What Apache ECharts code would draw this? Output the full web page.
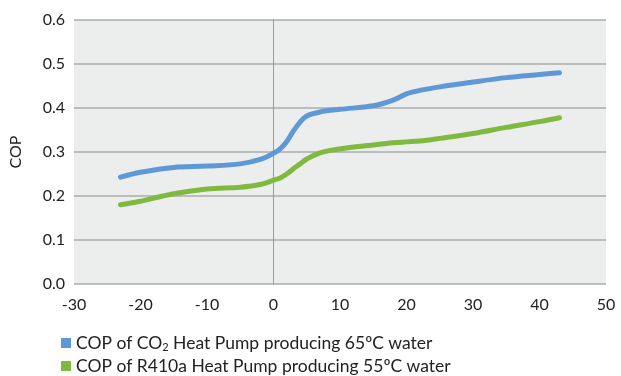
<!DOCTYPE html>
<html><head><meta charset="utf-8">
<script src="https://cdn.jsdelivr.net/npm/echarts@6/dist/echarts.min.js"></script>
<style>html,body{margin:0;padding:0;background:#fff}#c{width:621px;height:376px}</style>
</head><body><div id="c"></div>
<script>
var temps = [-23, -20, -15, -10, -5, -2, 0, 1, 2, 3, 4, 5, 7, 10, 15, 18, 20, 22, 25, 30, 35, 40, 43];
var co2Cop = [0.243, 0.254, 0.265, 0.268, 0.273, 0.283, 0.297, 0.307, 0.324, 0.348, 0.368, 0.382, 0.391, 0.397, 0.405, 0.418, 0.432, 0.440, 0.448, 0.459, 0.469, 0.476, 0.480];
var r410Cop = [0.180, 0.188, 0.205, 0.216, 0.220, 0.226, 0.236, 0.241, 0.250, 0.262, 0.273, 0.284, 0.298, 0.307, 0.316, 0.321, 0.323, 0.325, 0.331, 0.342, 0.356, 0.369, 0.378];
var seriesNames = ['COP of CO2 Heat Pump producing 65ºC water', 'COP of R410a Heat Pump producing 55ºC water'];
var xTicks = {min: -30, max: 50, interval: 10};
var yTicks = {min: 0, max: 0.6, interval: 0.1};

function pairs(xs, ys) { return xs.map(function (x, i) { return [x, ys[i]]; }); }
var font = 'Lato, "Open Sans", sans-serif';
var legendText = {fontFamily: font, fontSize: 17.5, color: '#222', padding: [0, 0, 0, 0],
  rich: {sub: {fontFamily: font, fontSize: 11, color: '#222', verticalAlign: 'bottom', padding: [8, 0, 0, 0]}}};
function legendFmt(n) {
  if (n.indexOf('CO2') >= 0) { return n.replace('CO2', 'CO{sub|2}'); }
  return n;
}
var chart = echarts.init(document.getElementById('c'), null, {renderer: 'canvas'});
chart.setOption({
  animation: false,
  grid: {left: 72, right: 15, top: 20, bottom: 92, show: true, backgroundColor: '#eceded', borderWidth: 0},
  xAxis: {
    type: 'value', min: xTicks.min, max: xTicks.max, interval: xTicks.interval,
    axisLine: {show: false}, axisTick: {show: false}, splitLine: {show: false},
    axisLabel: {fontFamily: font, fontSize: 16, color: '#222', margin: 13}
  },
  yAxis: {
    type: 'value', min: yTicks.min, max: yTicks.max, interval: yTicks.interval,
    name: 'COP', nameLocation: 'middle', nameGap: 50, nameRotate: 90,
    nameTextStyle: {fontFamily: font, fontSize: 16, color: '#222'},
    axisLine: {show: true, onZero: true, lineStyle: {color: '#9a9a9a', width: 1}},
    axisTick: {show: false},
    splitLine: {show: true, lineStyle: {color: '#ababab', width: 1.5}},
    axisLabel: {fontFamily: font, fontSize: 16, color: '#222', margin: 9,
      formatter: function (v) { return v.toFixed(1); }}
  },
  legend: [
    {left: 56, top: 329, itemWidth: 10, itemHeight: 10, icon: 'rect', itemGap: 5,
      data: [seriesNames[0]], formatter: legendFmt, textStyle: legendText},
    {left: 56, top: 352, itemWidth: 10, itemHeight: 10, icon: 'rect', itemGap: 5,
      data: [seriesNames[1]], formatter: legendFmt, textStyle: legendText}
  ],
  series: [
    {name: seriesNames[0], type: 'line', data: pairs(temps, co2Cop), smooth: 0.35, showSymbol: false,
      color: '#5f98d6', lineStyle: {width: 5, cap: 'round', color: '#5f98d6'}},
    {name: seriesNames[1], type: 'line', data: pairs(temps, r410Cop), smooth: 0.35, showSymbol: false,
      color: '#80b940', lineStyle: {width: 5, cap: 'round', color: '#80b940'}}
  ]
});
</script></body></html>
